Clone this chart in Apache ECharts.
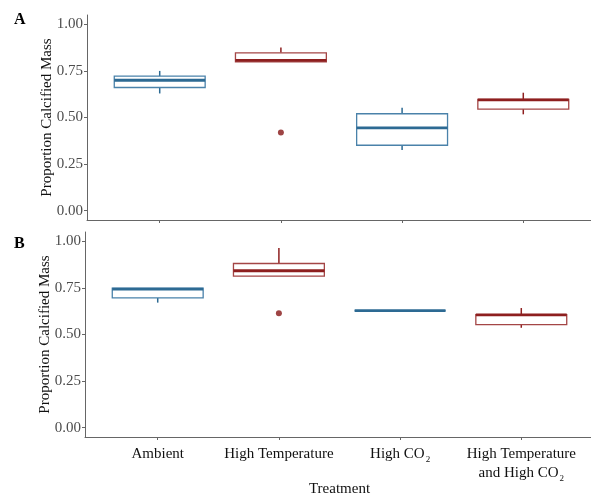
<!DOCTYPE html>
<html>
<head>
<meta charset="utf-8">
<script src="https://cdn.jsdelivr.net/npm/echarts@6/dist/echarts.min.js"></script>
<style>
  html, body { margin: 0; padding: 0; background: #fff; }
  #chart { width: 591px; height: 495px; }
</style>
</head>
<body>
<div id="chart"></div>
<script>
const categories = ["Ambient", "High Temperature", "High CO2", "High Temperature\nand High CO2"];
const yTicks = [0, 0.25, 0.5, 0.75, 1];

// [min, Q1, median, Q3, max] per treatment
const boxesA = [
  [0.629, 0.661, 0.700, 0.722, 0.750],
  [0.799, 0.799, 0.806, 0.847, 0.875],
  [0.325, 0.351, 0.444, 0.520, 0.552],
  [0.517, 0.545, 0.595, 0.597, 0.633]
];
const boxesB = [
  [0.671, 0.696, 0.744, 0.749, 0.749],
  [0.813, 0.813, 0.842, 0.881, 0.964],
  [0.628, 0.628, 0.628, 0.628, 0.628],
  [0.536, 0.553, 0.605, 0.607, 0.642]
];
// [treatment index, value]
const outliersA = [[1, 0.419]];
const outliersB = [[1, 0.614]];

const dark = ["#2d6a93", "#8e1f1f", "#2d6a93", "#8e1f1f"];
const light = ["#4a82aa", "#a44646", "#4a82aa", "#a44646"];
const font = "Liberation Serif";

function renderBox(params, api) {
  const i = api.value(0);
  const vals = [1, 2, 3, 4, 5].map((d) => api.value(d));
  const x = api.coord([i + 1, 0])[0];
  const w = api.size([0.75, 0])[0];
  const y = vals.map((v) => api.coord([i + 1, v])[1]);
  const children = [
    { type: "line", shape: { x1: x, y1: y[3], x2: x, y2: y[4] }, style: { stroke: dark[i], lineWidth: 1.5 } },
    { type: "line", shape: { x1: x, y1: y[0], x2: x, y2: y[1] }, style: { stroke: dark[i], lineWidth: 1.5 } },
    { type: "rect", shape: { x: x - w / 2, y: y[3], width: w, height: y[1] - y[3] },
      style: { fill: "#fff", stroke: light[i], lineWidth: 1.3 } },
    { type: "line", shape: { x1: x - w / 2, y1: y[2], x2: x + w / 2, y2: y[2] }, style: { stroke: dark[i], lineWidth: 2.8 } }
  ];
  return { type: "group", children: children };
}

function boxSeries(boxes, idx) {
  return {
    type: "custom",
    xAxisIndex: idx,
    yAxisIndex: idx,
    renderItem: renderBox,
    encode: { x: 0, y: [1, 2, 3, 4, 5] },
    data: boxes.map((b, i) => [i].concat(b)),
    z: 2
  };
}

function outlierSeries(points, idx) {
  return {
    type: "scatter",
    xAxisIndex: idx,
    yAxisIndex: idx,
    symbolSize: 6,
    itemStyle: { color: "#861515" },
    data: points.map((p) => [p[0] + 1, p[1]]),
    z: 3
  };
}

function xAxis(idx, showLabels) {
  return {
    type: "value",
    gridIndex: idx,
    min: 0.4,
    max: 4.6,
    name: showLabels ? "Treatment" : "",
    nameLocation: "middle",
    nameGap: 45,
    nameMoveOverlap: false,
    nameTextStyle: { fontFamily: font, fontSize: 15, color: "#111" },
    axisLine: { show: true, onZero: false, lineStyle: { color: "#666", width: 1 } },
    axisTick: { show: true, customValues: [1, 2, 3, 4], length: 3, lineStyle: { color: "#666" } },
    axisLabel: {
      show: showLabels,
      customValues: [1, 2, 3, 4],
      margin: 8,
      fontFamily: font,
      fontSize: 15,
      color: "#111",
      lineHeight: 19,
      formatter: (v) => categories[Math.round(v) - 1].replace(/CO2/g, "CO{sub|2}"),
      rich: {
        sub: { fontFamily: font, fontSize: 9, color: "#111", verticalAlign: "bottom", lineHeight: 19, padding: [8, 0, 0, 1] }
      }
    },
    splitLine: { show: false }
  };
}

function yAxis(idx) {
  return {
    type: "value",
    gridIndex: idx,
    min: -0.05,
    max: 1.05,
    name: "Proportion Calcified Mass",
    nameLocation: "middle",
    nameGap: 32,
    nameMoveOverlap: false,
    nameTextStyle: { fontFamily: font, fontSize: 15, color: "#111" },
    axisLine: { show: true, lineStyle: { color: "#666", width: 1 } },
    axisTick: { show: true, customValues: yTicks, length: 3, lineStyle: { color: "#666" } },
    axisLabel: {
      customValues: yTicks,
      formatter: (v) => v.toFixed(2),
      fontFamily: font,
      fontSize: 15,
      color: "#4d4d4d",
      margin: 4
    },
    splitLine: { show: false }
  };
}

const chart = echarts.init(document.getElementById("chart"));
chart.setOption({
  animation: false,
  backgroundColor: "#fff",
  title: [
    { text: "A", left: 9, top: 7, textStyle: { fontFamily: font, fontSize: 16, fontWeight: "bold", color: "#000" } },
    { text: "B", left: 9, top: 231, textStyle: { fontFamily: font, fontSize: 16, fontWeight: "bold", color: "#000" } }
  ],
  grid: [
    { left: 87, top: 15, width: 509, height: 205, outerBoundsMode: "none", containLabel: false },
    { left: 85, top: 232, width: 509, height: 205, outerBoundsMode: "none", containLabel: false }
  ],
  xAxis: [xAxis(0, false), xAxis(1, true)],
  yAxis: [yAxis(0), yAxis(1)],
  series: [
    boxSeries(boxesA, 0),
    outlierSeries(outliersA, 0),
    boxSeries(boxesB, 1),
    outlierSeries(outliersB, 1)
  ]
});
</script>
</body>
</html>
